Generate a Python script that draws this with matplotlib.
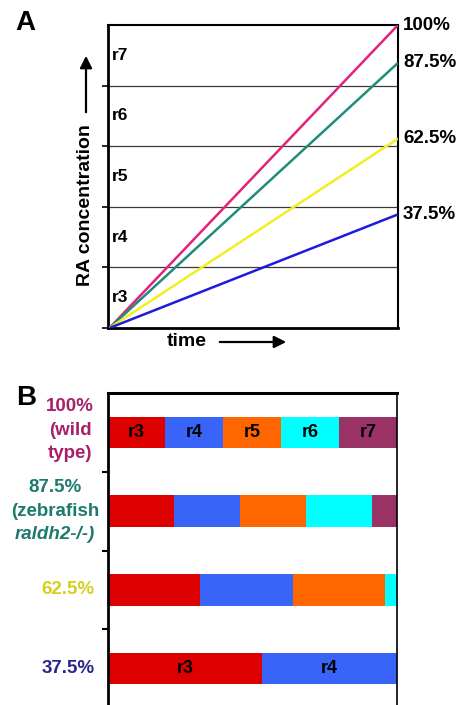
import matplotlib
matplotlib.use("Agg")
import matplotlib.pyplot as plt
import matplotlib.transforms as mtransforms
from matplotlib.patches import FancyArrowPatch

plt.rcParams['font.family'] = ['Liberation Sans', 'DejaVu Sans']
plt.rcParams['font.weight'] = 'bold'

# ---------------- data ----------------
# Panel A: RA concentration end values (percent of wild type)
line_labels = ["100%", "87.5%", "62.5%", "37.5%"]
line_end = [100.0, 87.5, 62.5, 37.5]
line_colors = ["#e2237c", "#1f8c7c", "#f2ee22", "#1c1cdc"]
band_names = ["r3", "r4", "r5", "r6", "r7"]
band_edges = [0, 20, 40, 60, 80, 100]

# Panel B: rhombomere segment widths per condition
row_labels = ["100%\n(wild\ntype)", "87.5%\n(zebrafish\nraldh2-/-)", "62.5%", "37.5%"]
row_label_colors = ["#a8206a", "#1f7a6e", "#d6cf1c", "#27278a"]
seg_widths = [
    [1.0, 1.0, 1.0, 1.0, 1.0],
    [1.14, 1.14, 1.14, 1.14, 0.44],
    [1.6, 1.6, 1.6, 0.2],
    [2.67, 2.33],
]
seg_names = ["r3", "r4", "r5", "r6", "r7"]
seg_colors = ["#dd0000", "#3864f8", "#ff6600", "#00ffff", "#993366"]
show_seg_labels = [True, False, False, True]

W, H = 468, 705
fig = plt.figure(figsize=(W / 100, H / 100), dpi=100)


def fx(px):
    return px / W


def fy(py):
    return 1 - py / H


# ---------------- Panel A ----------------
axA = fig.add_axes([fx(108), fy(328), fx(398) - fx(108), fy(25) - fy(328)])
axA.set_xlim(0, 1)
axA.set_ylim(0, 100)
for e in band_edges[1:-1]:
    axA.axhline(e, color="#3a3a3a", lw=0.9, zorder=1)
for val, c in zip(line_end, line_colors):
    axA.plot([0.005, 1.0], [0, val], color=c, lw=1.8, zorder=3, solid_capstyle="butt")
for i, name in enumerate(band_names):
    mid = (band_edges[i] + band_edges[i + 1]) / 2
    axA.text(0.012, mid, name, ha="left", va="center", fontsize=12.5, fontweight="bold")
for lab, val in zip(line_labels, line_end):
    axA.text(1.017, val, lab, transform=axA.get_yaxis_transform(), ha="left", va="center",
             fontsize=13.5, fontweight="bold", clip_on=False)
axA.set_xticks([])
axA.set_yticks(band_edges[:-1])
axA.set_yticklabels([])
axA.tick_params(axis="y", direction="out", length=4, width=1.2)
axA.spines["left"].set_linewidth(2.0)
axA.spines["bottom"].set_linewidth(2.0)
axA.spines["top"].set_linewidth(1.5)
axA.spines["right"].set_linewidth(1.5)

fig.text(fx(86), fy(205), "RA concentration", rotation=90, ha="center", va="center",
         fontsize=14, fontweight="bold")
fig.add_artist(FancyArrowPatch(
    (fx(86), fy(115)), (fx(86), fy(53)), transform=fig.transFigure,
    arrowstyle="-|>", mutation_scale=18, lw=1.6, color="black"))
fig.text(fx(187), fy(342), "time", ha="center", va="center", fontsize=14, fontweight="bold")
fig.add_artist(FancyArrowPatch(
    (fx(217), fy(342)), (fx(289), fy(342)), transform=fig.transFigure,
    arrowstyle="-|>", mutation_scale=18, lw=1.6, color="black"))
fig.text(fx(15), fy(30), "A", ha="left", va="baseline", fontsize=20, fontweight="bold")

# ---------------- Panel B ----------------
axB = fig.add_axes([fx(107.5), fy(708), fx(397) - fx(107.5), fy(393) - fy(708)])
axB.set_xlim(0, 5)
axB.set_ylim(3.5, -0.5)
for r, widths in enumerate(seg_widths):
    left = 0.0
    for j, w in enumerate(widths):
        axB.barh(r, w, left=left, height=0.4, color=seg_colors[j], edgecolor="none", zorder=2)
        if show_seg_labels[r]:
            axB.text(left + w / 2, r, seg_names[j], ha="center", va="center",
                     fontsize=13, fontweight="bold", zorder=3)
        left += w
axB.set_xticks([])
axB.set_yticks([0.5, 1.5, 2.5])
axB.set_yticklabels([])
axB.tick_params(axis="y", direction="out", length=4, width=1.5)
axB.spines["left"].set_linewidth(2.0)
axB.spines["top"].set_linewidth(2.2)
axB.spines["right"].set_linewidth(1.2)
axB.spines["bottom"].set_linewidth(1.2)

blend = mtransforms.blended_transform_factory(fig.transFigure, axB.transData)
label_x = [70, 55, 68, 68]
for r, (lab, c) in enumerate(zip(row_labels, row_label_colors)):
    lines = lab.split("\n")
    if len(lines) == 3:
        for k, ln in enumerate(lines):
            style = "italic" if (r == 1 and k == 2) else "normal"
            axB.text(fx(label_x[r]), r - 0.3 + 0.3 * k - (0.03 if r == 0 else 0), ln,
                     transform=blend, ha="center", va="center", fontsize=13.5,
                     fontweight="bold", color=c, style=style)
    else:
        axB.text(fx(label_x[r]), r, lab, transform=blend, ha="center", va="center",
                 fontsize=13.5, fontweight="bold", color=c)

fig.text(fx(16), fy(405), "B", ha="left", va="baseline", fontsize=20, fontweight="bold")

fig.savefig("out.png", dpi=100)
